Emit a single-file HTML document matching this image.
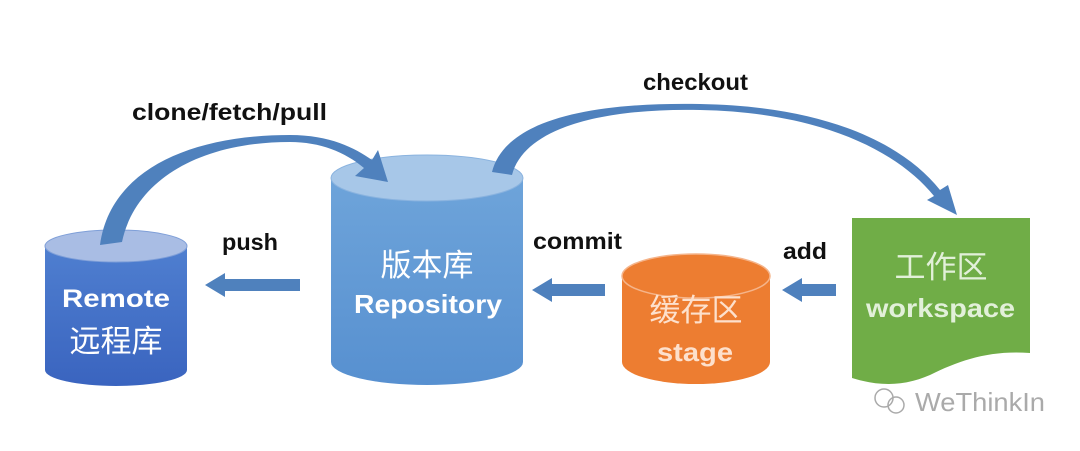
<!DOCTYPE html>
<html><head><meta charset="utf-8"><style>
body{margin:0;background:#fff;}
svg text{font-family:"Liberation Sans","Noto Sans CJK SC",sans-serif;}
</style></head><body>
<svg width="1080" height="446" viewBox="0 0 1080 446" xmlns="http://www.w3.org/2000/svg">
<defs>
<linearGradient id="gR" x1="0" y1="0" x2="0" y2="1"><stop offset="0" stop-color="#4f7fd0"/><stop offset="1" stop-color="#3a64bf"/></linearGradient>
<linearGradient id="gP" x1="0" y1="0" x2="0" y2="1"><stop offset="0" stop-color="#6ea4da"/><stop offset="1" stop-color="#5790d0"/></linearGradient>
</defs>
<!-- Remote -->
<path d="M45 246 V370 A71 16 0 0 0 187 370 V246 Z" fill="url(#gR)"/>
<ellipse cx="116" cy="246" rx="71" ry="16" fill="#a9bde4" stroke="#7f9fd8"/>
<text x="62" y="307" font-size="25" font-weight="bold" fill="#fff" textLength="108" lengthAdjust="spacingAndGlyphs">Remote</text>
<text x="116" y="352" font-size="31" fill="#fff" text-anchor="middle">远程库</text>
<!-- Repository -->
<path d="M331 178 V362 A96 23 0 0 0 523 362 V178 Z" fill="url(#gP)"/>
<ellipse cx="427" cy="178" rx="96" ry="23" fill="#a7c7e8" stroke="#8ab3df"/>
<text x="427" y="276" font-size="31" fill="#fff" text-anchor="middle">版本库</text>
<text x="354" y="313" font-size="26" font-weight="bold" fill="#fff" textLength="148" lengthAdjust="spacingAndGlyphs">Repository</text>
<!-- Stage -->
<path d="M622 276 V362 A74 22 0 0 0 770 362 V276 Z" fill="#ed7d31"/>
<ellipse cx="696" cy="276" rx="74" ry="22" fill="#ed7d31" stroke="#f5b48a" stroke-width="1.5"/>
<text x="696" y="321" font-size="31" fill="#fde0cc" text-anchor="middle">缓存区</text>
<text x="657" y="361" font-size="26" font-weight="bold" fill="#fde0cc" textLength="76" lengthAdjust="spacingAndGlyphs">stage</text>
<!-- Workspace -->
<path d="M852 218 H1030 V353 C990 350 960 360 930 375 C900 388 875 385 852 378 Z" fill="#70ad47"/>
<text x="941" y="278" font-size="31" fill="#e2f0d9" text-anchor="middle">工作区</text>
<text x="866" y="317" font-size="26" font-weight="bold" fill="#e2f0d9" textLength="149" lengthAdjust="spacingAndGlyphs">workspace</text>
<!-- straight arrows -->
<path d="M300 279 H225 V273 L205 285 L225 297 V291 H300 Z" fill="#4f81bd"/>
<path d="M605 284 H552 V278 L532 290 L552 302 V296 H605 Z" fill="#4f81bd"/>
<path d="M836 284 H802 V278 L782 290 L802 302 V296 H836 Z" fill="#4f81bd"/>
<!-- curved arrows -->
<path d="M100 245 C110 170 190 135 290 135 C330 135 355 148 372 160 L378 150 L388 182 L355 176 L364 168 C345 152 320 142 290 142 C200 142 135 180 122 242 Z" fill="#4f81bd"/>
<path d="M492 172 C505 120 590 102 700 104 C820 106 900 140 940 190 L948 185 L957 215 L927 200 L934 196 C895 148 815 112 700 110 C610 108 525 125 512 175 Z" fill="#4f81bd"/>
<!-- labels -->
<text x="132" y="120" font-size="23" font-weight="bold" fill="#111" textLength="195" lengthAdjust="spacingAndGlyphs">clone/fetch/pull</text>
<text x="643" y="90" font-size="23" font-weight="bold" fill="#111" textLength="105" lengthAdjust="spacingAndGlyphs">checkout</text>
<text x="222" y="250" font-size="23" font-weight="bold" fill="#111" textLength="56" lengthAdjust="spacingAndGlyphs">push</text>
<text x="533" y="249" font-size="23" font-weight="bold" fill="#111" textLength="89" lengthAdjust="spacingAndGlyphs">commit</text>
<text x="783" y="259" font-size="23" font-weight="bold" fill="#111" textLength="44" lengthAdjust="spacingAndGlyphs">add</text>
<!-- watermark -->
<circle cx="884" cy="398" r="9" fill="none" stroke="#aaa" stroke-width="1.5"/>
<circle cx="896" cy="405" r="8" fill="none" stroke="#aaa" stroke-width="1.5"/>
<text x="915" y="411" font-size="26" fill="#aaa" textLength="130" lengthAdjust="spacingAndGlyphs">WeThinkIn</text>
</svg>
</body></html>
